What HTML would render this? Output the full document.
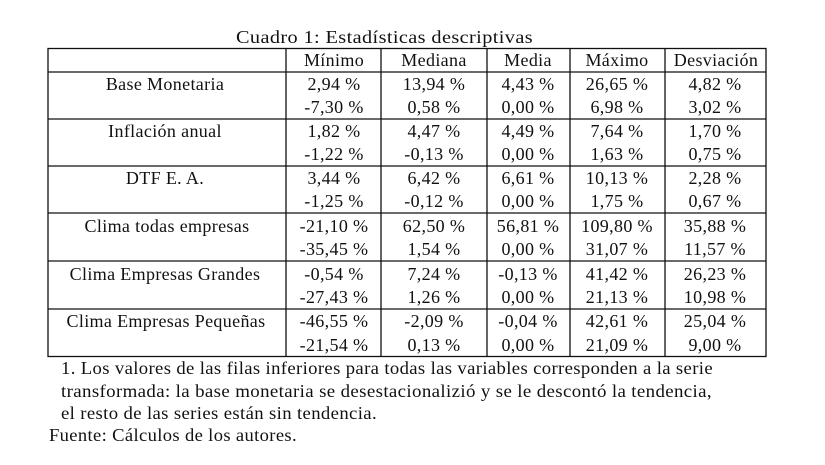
<!DOCTYPE html>
<html><head><style>
body{margin:0;background:#fff;}
svg text{font-family:"Liberation Serif",serif;font-size:18px;letter-spacing:0.35px;fill:#111;}
</style></head><body>
<svg width="825" height="460" xmlns="http://www.w3.org/2000/svg">
<text x="236" y="43" textLength="297" lengthAdjust="spacingAndGlyphs">Cuadro 1: Estadísticas descriptivas</text>
<g stroke="#111" stroke-width="1.3" fill="none">
<rect x="48" y="48.5" width="718" height="308"/>
<line x1="286" y1="48" x2="286" y2="357"/>
<line x1="381" y1="48" x2="381" y2="357"/>
<line x1="487" y1="48" x2="487" y2="357"/>
<line x1="570" y1="48" x2="570" y2="357"/>
<line x1="665" y1="48" x2="665" y2="357"/>
<line x1="48" y1="72" x2="766" y2="72"/>
<line x1="48" y1="119" x2="766" y2="119"/>
<line x1="48" y1="166" x2="766" y2="166"/>
<line x1="48" y1="213" x2="766" y2="213"/>
<line x1="48" y1="261" x2="766" y2="261"/>
<line x1="48" y1="309" x2="766" y2="309"/>
</g>
<g text-anchor="middle">
<text x="334" y="66">Mínimo</text><text x="434" y="66">Mediana</text><text x="528" y="66">Media</text><text x="617" y="66">Máximo</text><text x="716" y="66">Desviación</text>

<text x="165" y="90">Base Monetaria</text>
<text x="334" y="90">2,94 %</text><text x="434" y="90">13,94 %</text><text x="528" y="90">4,43 %</text><text x="617" y="90">26,65 %</text><text x="715" y="90">4,82 %</text>
<text x="334" y="113">-7,30 %</text><text x="434" y="113">0,58 %</text><text x="528" y="113">0,00 %</text><text x="617" y="113">6,98 %</text><text x="715" y="113">3,02 %</text>

<text x="165" y="137">Inflación anual</text>
<text x="334" y="137">1,82 %</text><text x="434" y="137">4,47 %</text><text x="528" y="137">4,49 %</text><text x="617" y="137">7,64 %</text><text x="715" y="137">1,70 %</text>
<text x="334" y="160">-1,22 %</text><text x="434" y="160">-0,13 %</text><text x="528" y="160">0,00 %</text><text x="617" y="160">1,63 %</text><text x="715" y="160">0,75 %</text>

<text x="165" y="184">DTF E. A.</text>
<text x="334" y="184">3,44 %</text><text x="434" y="184">6,42 %</text><text x="528" y="184">6,61 %</text><text x="617" y="184">10,13 %</text><text x="715" y="184">2,28 %</text>
<text x="334" y="207">-1,25 %</text><text x="434" y="207">-0,12 %</text><text x="528" y="207">0,00 %</text><text x="617" y="207">1,75 %</text><text x="715" y="207">0,67 %</text>

<text x="167" y="232">Clima todas empresas</text>
<text x="334" y="232">-21,10 %</text><text x="434" y="232">62,50 %</text><text x="528" y="232">56,81 %</text><text x="617" y="232">109,80 %</text><text x="715" y="232">35,88 %</text>
<text x="334" y="255">-35,45 %</text><text x="434" y="255">1,54 %</text><text x="528" y="255">0,00 %</text><text x="617" y="255">31,07 %</text><text x="715" y="255">11,57 %</text>

<text x="165" y="280">Clima Empresas Grandes</text>
<text x="334" y="280">-0,54 %</text><text x="434" y="280">7,24 %</text><text x="528" y="280">-0,13 %</text><text x="617" y="280">41,42 %</text><text x="715" y="280">26,23 %</text>
<text x="334" y="303">-27,43 %</text><text x="434" y="303">1,26 %</text><text x="528" y="303">0,00 %</text><text x="617" y="303">21,13 %</text><text x="715" y="303">10,98 %</text>

<text x="166" y="327">Clima Empresas Pequeñas</text>
<text x="334" y="327">-46,55 %</text><text x="434" y="327">-2,09 %</text><text x="528" y="327">-0,04 %</text><text x="617" y="327">42,61 %</text><text x="715" y="327">25,04 %</text>
<text x="334" y="351">-21,54 %</text><text x="434" y="351">0,13 %</text><text x="528" y="351">0,00 %</text><text x="617" y="351">21,09 %</text><text x="715" y="351">9,00 %</text>
</g>
<text x="61" y="374" textLength="652" lengthAdjust="spacingAndGlyphs">1. Los valores de las filas inferiores para todas las variables corresponden a la serie</text>
<text x="61" y="397" textLength="651" lengthAdjust="spacingAndGlyphs">transformada: la base monetaria se desestacionalizió y se le descontó la tendencia,</text>
<text x="61" y="419" textLength="316" lengthAdjust="spacingAndGlyphs">el resto de las series están sin tendencia.</text>
<text x="49" y="441" textLength="248" lengthAdjust="spacingAndGlyphs">Fuente: Cálculos de los autores.</text>
</svg>
</body></html>
